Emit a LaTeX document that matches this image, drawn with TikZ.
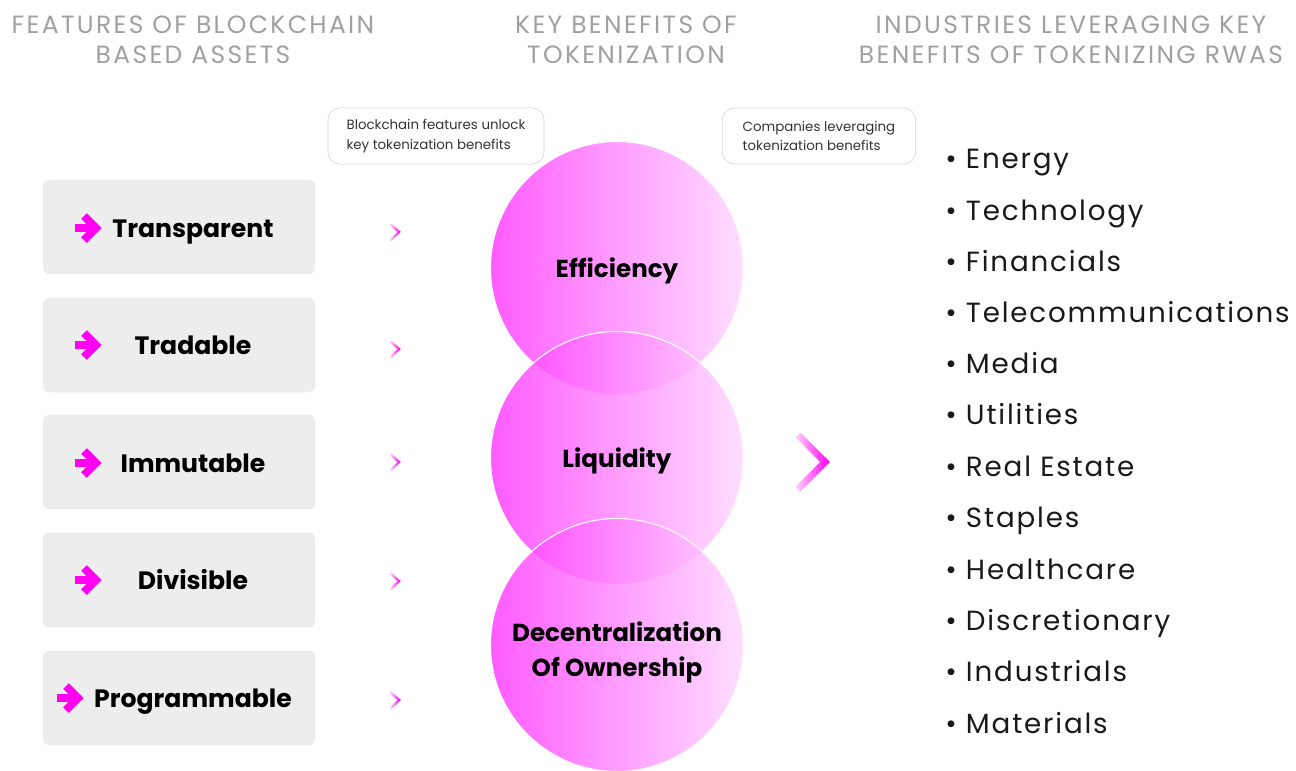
\documentclass[tikz,border=0pt]{standalone}
\usepackage{fontspec}
\setmainfont{Poppins}
\newfontfamily\spacedfont[LetterSpace=9.5]{Poppins}
\newfontfamily\listfont[LetterSpace=6.5]{Poppins}
\usepackage{tikz}
\usetikzlibrary{arrows}
\usetikzlibrary{fadings}

\tikzfading[name=fadeleft, left color=transparent!85, right color=transparent!0]

\tikzset{
  header/.style={text=headgray, font=\spacedfont\fontsize{14.2}{17}\selectfont, align=center},
  featbox/.style={fill=boxgray, rounded corners=4pt, minimum width=155pt, minimum height=54pt, inner sep=0pt},
  feattext/.style={font=\bfseries\fontsize{14.3}{16}\selectfont, text height=10.5pt, text depth=3.5pt},
  callout/.style={draw=linegray, line width=0.4pt, rounded corners=7pt, minimum width=123pt, minimum height=32pt, align=left, font=\fontsize{7.6}{11}\selectfont, text=black!80},
  benefit/.style={circle, minimum size=144pt, inner sep=0pt, left color=pinkdark, right color=pinklight, fill opacity=0.82, draw=white, line width=0.6pt},
  benefittext/.style={font=\bfseries\fontsize{14}{20}\selectfont, align=center},
  chev/.style={draw=pinkmid, line width=1.4pt, line cap=round, path fading=fadeleft},
  bigchev/.style={draw=pinkmid, line width=4pt, path fading=fadeleft},
  featarrow/.style={draw=pinkmid, line width=4.5pt},
  industry/.style={anchor=west, font=\listfont\fontsize{15.8}{18}\selectfont, text=black!90, inner sep=0pt, text height=11pt, text depth=3.5pt}
}

\begin{document}
\begin{tikzpicture}[x=0.02cm, y=-0.02cm]
        \definecolor{headgray}{RGB}{160,160,160}
        \definecolor{boxgray}{RGB}{237,237,237}
        \definecolor{linegray}{RGB}{215,215,215}
        \definecolor{pinkmid}{RGB}{255,0,240}
        \definecolor{pinkdark}{RGB}{255,55,255}
        \definecolor{pinklight}{RGB}{255,215,255}
        \useasboundingbox (0,0) rectangle (1296,771);

        % Column headers
        \node[header] (h1) at (193,40) {FEATURES OF BLOCKCHAIN\\BASED ASSETS};
        \node[header] (h2) at (626,40) {KEY BENEFITS OF\\TOKENIZATION};
        \node[header] (h3) at (1071,40) {INDUSTRIES LEVERAGING KEY\\BENEFITS OF TOKENIZING RWAS};

        % Callouts
        \node[callout] (c1) at (436,136) {Blockchain features unlock\\key tokenization benefits};
        \node[callout, minimum width=110pt] (c2) at (819,136) {Companies leveraging\\tokenization benefits};

        % Feature boxes
        \node[featbox] (f1) at (179,227) {};
        \node[featbox] (f2) at (179,345) {};
        \node[featbox] (f3) at (179,462) {};
        \node[featbox] (f4) at (179,580) {};
        \node[featbox] (f5) at (179,698) {};
        \node[feattext] (t1) at (193,231) {Transparent};
        \node[feattext] (t2) at (193,348) {Tradable};
        \node[feattext] (t3) at (193,466) {Immutable};
        \node[feattext] (t4) at (193,583) {Divisible};
        \node[feattext] (t5) at (193,701) {Programmable};

        % Pink arrows in the boxes
        \draw[featarrow] (75,228) -- (95,228);
        \draw[featarrow, line join=miter] (84,216) -- (96,228) -- (84,240);
        \draw[featarrow] (75,345) -- (95,345);
        \draw[featarrow, line join=miter] (84,333) -- (96,345) -- (84,357);
        \draw[featarrow] (75,463) -- (95,463);
        \draw[featarrow, line join=miter] (84,451) -- (96,463) -- (84,475);
        \draw[featarrow] (75,580) -- (95,580);
        \draw[featarrow, line join=miter] (84,568) -- (96,580) -- (84,592);
        \draw[featarrow] (57,698) -- (77,698);
        \draw[featarrow, line join=miter] (66,686) -- (78,698) -- (66,710);

        % Small chevrons
        \draw[chev] (391,225) -- (399,232) -- (391,240);
        \draw[chev] (391,342) -- (399,349) -- (391,357);
        \draw[chev] (391,455) -- (399,462) -- (391,470);
        \draw[chev] (391,574) -- (399,581) -- (391,589);
        \draw[chev] (391,693) -- (399,700) -- (391,708);

        % Benefit circles
        \node[benefit] (b1) at (617,268) {};
        \node[benefit] (b2) at (617,458) {};
        \node[benefit] (b3) at (617,645) {};
        \node[benefittext] (e1) at (617,271) {Efficiency};
        \node[benefittext] (e2) at (617,461) {Liquidity};
        \node[benefittext] (e3) at (617,652) {Decentralization\\Of Ownership};

        % Big chevron
        \draw[bigchev] (798,435) -- (825,462) -- (798,489);

        % Industries
        \node[industry] (i1) at (945,162) {\textbullet\ Energy};
        \node[industry] (i2) at (945,214) {\textbullet\ Technology};
        \node[industry] (i3) at (945,265) {\textbullet\ Financials};
        \node[industry] (i4) at (945,316) {\textbullet\ Telecommunications};
        \node[industry] (i5) at (945,367) {\textbullet\ Media};
        \node[industry] (i6) at (945,418) {\textbullet\ Utilities};
        \node[industry] (i7) at (945,470) {\textbullet\ Real Estate};
        \node[industry] (i8) at (945,521) {\textbullet\ Staples};
        \node[industry] (i9) at (945,573) {\textbullet\ Healthcare};
        \node[industry] (i10) at (945,624) {\textbullet\ Discretionary};
        \node[industry] (i11) at (945,675) {\textbullet\ Industrials};
        \node[industry] (i12) at (945,727) {\textbullet\ Materials};
\end{tikzpicture}
\end{document}
